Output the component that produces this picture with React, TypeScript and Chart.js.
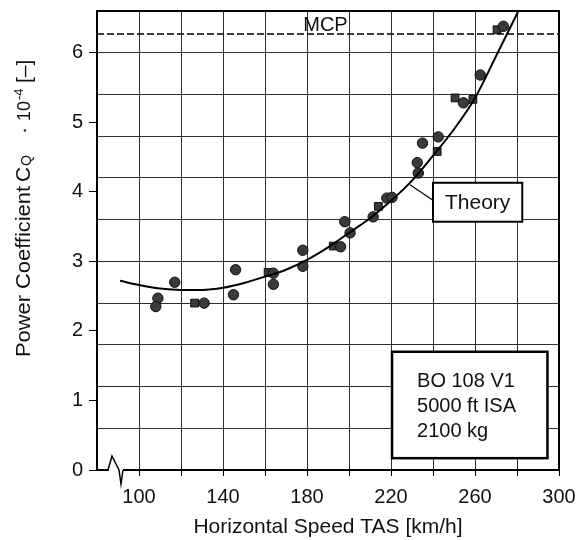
import React, { useEffect, useRef } from "react";
import { Chart, registerables } from "chart.js";

Chart.register(...registerables);

// ---- axes ----
const X_MIN = 80;
const X_MAX = 300;
const Y_MIN = 0;
const Y_MAX = 6.6;
const xTickLabels = [100, 140, 180, 220, 260, 300];
const xGridValues = [80, 100, 120, 140, 160, 180, 200, 220, 240, 260, 280, 300];
const yTickLabels = [0, 1, 2, 3, 4, 5, 6];
const yGridValues = [0, 0.6, 1.2, 1.8, 2.4, 3.0, 3.6, 4.2, 4.8, 5.4, 6.0, 6.6];

// ---- flight test points (circles) ----
const circleSpeed = [109, 108, 117, 131, 146, 145, 164, 164, 178, 178, 196, 198, 200.5, 211.5, 218, 220.5, 232.5, 233, 235, 242.5, 254.5, 262.5, 273.5];
const circleCq = [2.47, 2.35, 2.70, 2.40, 2.88, 2.52, 2.83, 2.67, 3.16, 2.93, 3.21, 3.57, 3.41, 3.64, 3.91, 3.92, 4.42, 4.27, 4.70, 4.79, 5.28, 5.68, 6.38];

// ---- flight test points (squares) ----
const squareSpeed = [126.5, 161.5, 192.5, 214, 242, 250.5, 259, 270.5];
const squareCq = [2.40, 2.84, 3.22, 3.79, 4.58, 5.35, 5.33, 6.33];

// ---- theory curve ----
const theorySpeed = [91, 100, 110, 120, 130, 140, 150, 160, 170, 180, 190, 200, 210, 220, 230, 240, 250, 260, 270, 280.5];
const theoryCq = [2.72, 2.66, 2.61, 2.59, 2.59, 2.62, 2.69, 2.78, 2.88, 3.02, 3.20, 3.41, 3.62, 3.87, 4.16, 4.52, 4.90, 5.35, 5.95, 6.59];

// ---- MCP limit ----
const mcpSpeed = [80, 300];
const mcpCq = [6.27, 6.27];

// ---- texts ----
const xTitle = "Horizontal Speed TAS [km/h]";
const mcpLabel = "MCP";
const theoryLabel = "Theory";
const infoLines = ["BO 108 V1", "5000 ft ISA", "2100 kg"];

const FONT = '"Liberation Sans", Arial, Helvetica, sans-serif';
const INK = "#111";

const pts = (xs: number[], ys: number[]) => xs.map((x, i) => ({ x, y: ys[i] }));

const overlayPlugin = {
  id: "overlay",
  beforeDraw(chart: any) {
    const { ctx, width, height } = chart;
    ctx.save();
    ctx.fillStyle = "#fff";
    ctx.fillRect(0, 0, width, height);
    ctx.restore();
  },
  afterDatasetsDraw(chart: any) {
    const { ctx, chartArea: a, scales } = chart;
    const x = scales.x;
    const y = scales.y;
    ctx.save();

    // plot frame
    ctx.strokeStyle = "#000";
    ctx.lineWidth = 2;
    ctx.strokeRect(a.left, a.top, a.right - a.left, a.bottom - a.top);

    // MCP label
    ctx.fillStyle = INK;
    ctx.font = `20px ${FONT}`;
    ctx.textAlign = "left";
    ctx.textBaseline = "alphabetic";
    ctx.fillText(mcpLabel, x.getPixelForValue(178.2), y.getPixelForValue(mcpCq[0]) - 3);

    // Theory label box + leader
    const tl = x.getPixelForValue(240);
    const tr = x.getPixelForValue(282.5);
    const tt = y.getPixelForValue(4.13);
    const tb = y.getPixelForValue(3.57);
    ctx.strokeStyle = "#000";
    ctx.lineWidth = 1.2;
    ctx.beginPath();
    ctx.moveTo(tl, y.getPixelForValue(3.88));
    ctx.lineTo(x.getPixelForValue(229), y.getPixelForValue(4.1));
    ctx.stroke();
    ctx.fillStyle = "#fff";
    ctx.fillRect(tl, tt, tr - tl, tb - tt);
    ctx.lineWidth = 2;
    ctx.strokeRect(tl, tt, tr - tl, tb - tt);
    ctx.fillStyle = INK;
    ctx.font = `21px ${FONT}`;
    ctx.textAlign = "center";
    ctx.textBaseline = "middle";
    ctx.fillText(theoryLabel, (tl + tr) / 2, (tt + tb) / 2 + 1);

    // info box
    const bl = x.getPixelForValue(220.5);
    const br = x.getPixelForValue(294.5);
    const bt = y.getPixelForValue(1.7);
    const bb = y.getPixelForValue(0.17);
    ctx.fillStyle = "#fff";
    ctx.fillRect(bl, bt, br - bl, bb - bt);
    ctx.lineWidth = 2.5;
    ctx.strokeStyle = "#000";
    ctx.strokeRect(bl, bt, br - bl, bb - bt);
    ctx.fillStyle = INK;
    ctx.font = `20px ${FONT}`;
    ctx.textAlign = "left";
    ctx.textBaseline = "alphabetic";
    const tx = x.getPixelForValue(232.4);
    infoLines.forEach((line, i) => ctx.fillText(line, tx, bt + 35 + i * 25));

    // axis break on the x axis
    const ay = a.bottom;
    ctx.fillStyle = "#fff";
    ctx.fillRect(a.left + 12, ay - 3, 14, 6);
    ctx.strokeStyle = "#000";
    ctx.lineWidth = 1.5;
    ctx.beginPath();
    ctx.moveTo(a.left + 11, ay);
    ctx.lineTo(a.left + 15, ay - 14);
    ctx.lineTo(a.left + 22, ay);
    ctx.lineTo(a.left + 24, ay + 14);
    ctx.lineTo(a.left + 26, ay);
    ctx.stroke();

    ctx.restore();
  },
  afterDraw(chart: any) {
    const { ctx } = chart;
    // y axis title with subscript / superscript
    const parts = [
      { text: "Power Coefficient", size: 21, start: 357, end: 186, base: 30 },
      { text: "C", size: 21, start: 182, end: 0, base: 30 },
      { text: "Q", size: 14, start: 166, end: 0, base: 31 },
      { text: "·", size: 21, start: 134, end: 0, base: 30 },
      { text: "10", size: 18, start: 121, end: 0, base: 30 },
      { text: "-4", size: 13, start: 100, end: 0, base: 23 },
      { text: "[–]", size: 21, start: 83, end: 0, base: 31 },
    ];
    ctx.save();
    ctx.fillStyle = INK;
    ctx.textAlign = "left";
    ctx.textBaseline = "alphabetic";
    parts.forEach((p) => {
      ctx.save();
      ctx.translate(p.base, p.start);
      ctx.rotate(-Math.PI / 2);
      ctx.font = `${p.size}px ${FONT}`;
      if (p.end) {
        const w = ctx.measureText(p.text).width;
        const target = p.start - p.end;
        ctx.scale(target / w, 1);
      }
      ctx.fillText(p.text, 0, 0);
      ctx.restore();
    });
    ctx.restore();
  },
};

export default function App() {
  const canvasRef = useRef<HTMLCanvasElement | null>(null);

  useEffect(() => {
    if (!canvasRef.current) return;
    const yAllTicks = Array.from(new Set([...yTickLabels, ...yGridValues])).sort((p, q) => p - q);

    const chart = new Chart(canvasRef.current, {
      type: "scatter",
      data: {
        datasets: [
          {
            type: "line",
            label: "MCP",
            data: pts(mcpSpeed, mcpCq),
            borderColor: "#000",
            borderWidth: 1.5,
            borderDash: [7, 3],
            pointRadius: 0,
            showLine: true,
            fill: false,
          },
          {
            type: "line",
            label: "Theory",
            data: pts(theorySpeed, theoryCq),
            borderColor: "#000",
            borderWidth: 2,
            pointRadius: 0,
            showLine: true,
            fill: false,
            cubicInterpolationMode: "monotone",
          },
          {
            label: "Flight test (circles)",
            data: pts(circleSpeed, circleCq),
            pointStyle: "circle",
            pointRadius: 5.2,
            backgroundColor: "#3a3a3a",
            borderColor: "#111",
            borderWidth: 1,
          },
          {
            label: "Flight test (squares)",
            data: pts(squareSpeed, squareCq),
            pointStyle: "rect",
            pointRadius: 5.5,
            backgroundColor: "#3a3a3a",
            borderColor: "#111",
            borderWidth: 1,
          },
        ] as any,
      },
      options: {
        responsive: false,
        animation: false,
        layout: { padding: { left: 0, top: 11, right: 19, bottom: 0 } },
        plugins: {
          legend: { display: false },
          tooltip: { enabled: false },
        },
        scales: {
          x: {
            type: "linear",
            min: X_MIN,
            max: X_MAX,
            afterBuildTicks: (s: any) => {
              s.ticks = xGridValues.map((v) => ({ value: v }));
            },
            afterFit: (s: any) => {
              s.height = 70;
              s.paddingLeft = 0;
              s.paddingRight = 0;
              s.paddingTop = 0;
              s.paddingBottom = 0;
            },
            ticks: {
              autoSkip: false,
              maxRotation: 0,
              padding: 9,
              color: INK,
              font: { family: FONT, size: 20 },
              callback: (v: any) => (xTickLabels.includes(Number(v)) ? String(v) : ""),
            },
            grid: {
              color: (c: any) => (c.tick && xGridValues.includes(c.tick.value) ? "#2e2e2e" : "rgba(0,0,0,0)"),
              tickColor: (c: any) => (c.tick && c.tick.value >= 100 ? "#000" : "rgba(0,0,0,0)"),
              lineWidth: 1,
              tickLength: 6,
            },
            border: { display: true, color: "#000", width: 2 },
            title: {
              display: true,
              text: xTitle,
              color: INK,
              font: { family: FONT, size: 21 },
              padding: { top: 0, bottom: 0 },
            },
          },
          y: {
            type: "linear",
            min: Y_MIN,
            max: Y_MAX,
            afterBuildTicks: (s: any) => {
              s.ticks = yAllTicks.map((v) => ({ value: v }));
            },
            afterFit: (s: any) => {
              s.width = 97;
              s.paddingLeft = 0;
              s.paddingRight = 0;
              s.paddingTop = 0;
              s.paddingBottom = 0;
            },
            ticks: {
              autoSkip: false,
              padding: 6,
              color: INK,
              font: { family: FONT, size: 20 },
              callback: (v: any) => (yTickLabels.includes(Number(v)) ? String(v) : ""),
            },
            grid: {
              color: (c: any) => (c.tick && yGridValues.includes(c.tick.value) ? "#2e2e2e" : "rgba(0,0,0,0)"),
              tickColor: (c: any) => (c.tick && yTickLabels.includes(c.tick.value) ? "#000" : "rgba(0,0,0,0)"),
              lineWidth: 1,
              tickLength: 8,
            },
            border: { display: true, color: "#000", width: 2 },
            title: { display: false },
          },
        },
      } as any,
      plugins: [overlayPlugin],
    });

    return () => chart.destroy();
  }, []);

  return (
    <div style={{ position: "absolute", left: 0, top: 0, width: 578, height: 540, background: "#fff" }}>
      <canvas ref={canvasRef} width={578} height={540} style={{ width: 578, height: 540, display: "block" }} />
    </div>
  );
}
